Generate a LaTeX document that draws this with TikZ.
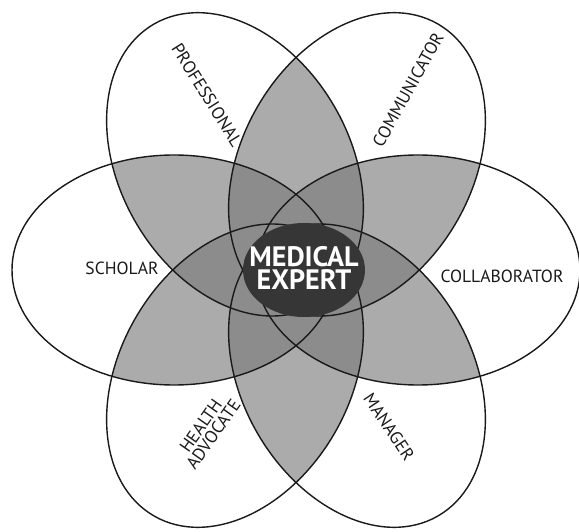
\documentclass[tikz,border=0pt]{standalone}
\usepackage{fontspec}
\setmainfont{PT Sans}
\usepackage{xcolor}
\usetikzlibrary{positioning}
\definecolor{InkBlack}{HTML}{1A1A1A}
\definecolor{PairGray}{HTML}{ABABAB}
\definecolor{StarGray}{HTML}{8C8C8C}
\definecolor{CoreGray}{HTML}{363636}
\newcommand{\petal}{(122,0) ellipse [x radius=162, y radius=115]}
\tikzset{
  outline/.style={draw=InkBlack, line width=1.2pt},
  role/.style={font=\fontsize{15}{16}\selectfont, text=InkBlack, align=center, inner sep=1pt},
  core/.style={font=\bfseries\fontsize{24}{25}\selectfont, text=white, align=center, inner sep=1pt}
}

\begin{document}
\begin{tikzpicture}[x=0.03cm, y=0.03cm]
\useasboundingbox (-296,-262) rectangle (283,270);
\foreach \i in {0,60,...,300}{
  \foreach \j in {0,60,...,300}{
    \ifnum\j>\i
      \begin{scope}
        \clip[rotate=\i] \petal;
        \fill[PairGray, rotate=\j] \petal;
      \end{scope}
    \fi
  }
}
\foreach \i in {0,60,...,300}{
  \foreach \j in {0,60,...,300}{
    \foreach \k in {0,60,...,300}{
      \ifnum\j>\i \ifnum\k>\j
        \begin{scope}
          \clip[rotate=\i] \petal;
          \clip[rotate=\j] \petal;
          \fill[StarGray, rotate=\k] \petal;
        \end{scope}
      \fi\fi
    }
  }
}
\foreach \i in {0,60,...,300}{
  \draw[outline, rotate=\i] \petal;
}
\fill[CoreGray] (8,0) ellipse [x radius=61, y radius=47];
\node[core] (expert) at (8,2) {MEDICAL\\[-6pt]EXPERT};
\node[role] (scholar) at (-174,2) {SCHOLAR};
\node[role] (collab) at (206,-6) {COLLABORATOR};
\node[role, rotate=-58] (prof) at (-89,175) {PROFESSIONAL};
\node[role, rotate=61] (comm) at (112,180) {COMMUNICATOR};
\node[role, rotate=55] (health) at (-89,-160) {HEALTH\\[-3pt]ADVOCATE};
\node[role, rotate=-56] (manager) at (93,-157) {MANAGER};
\end{tikzpicture}
\end{document}
